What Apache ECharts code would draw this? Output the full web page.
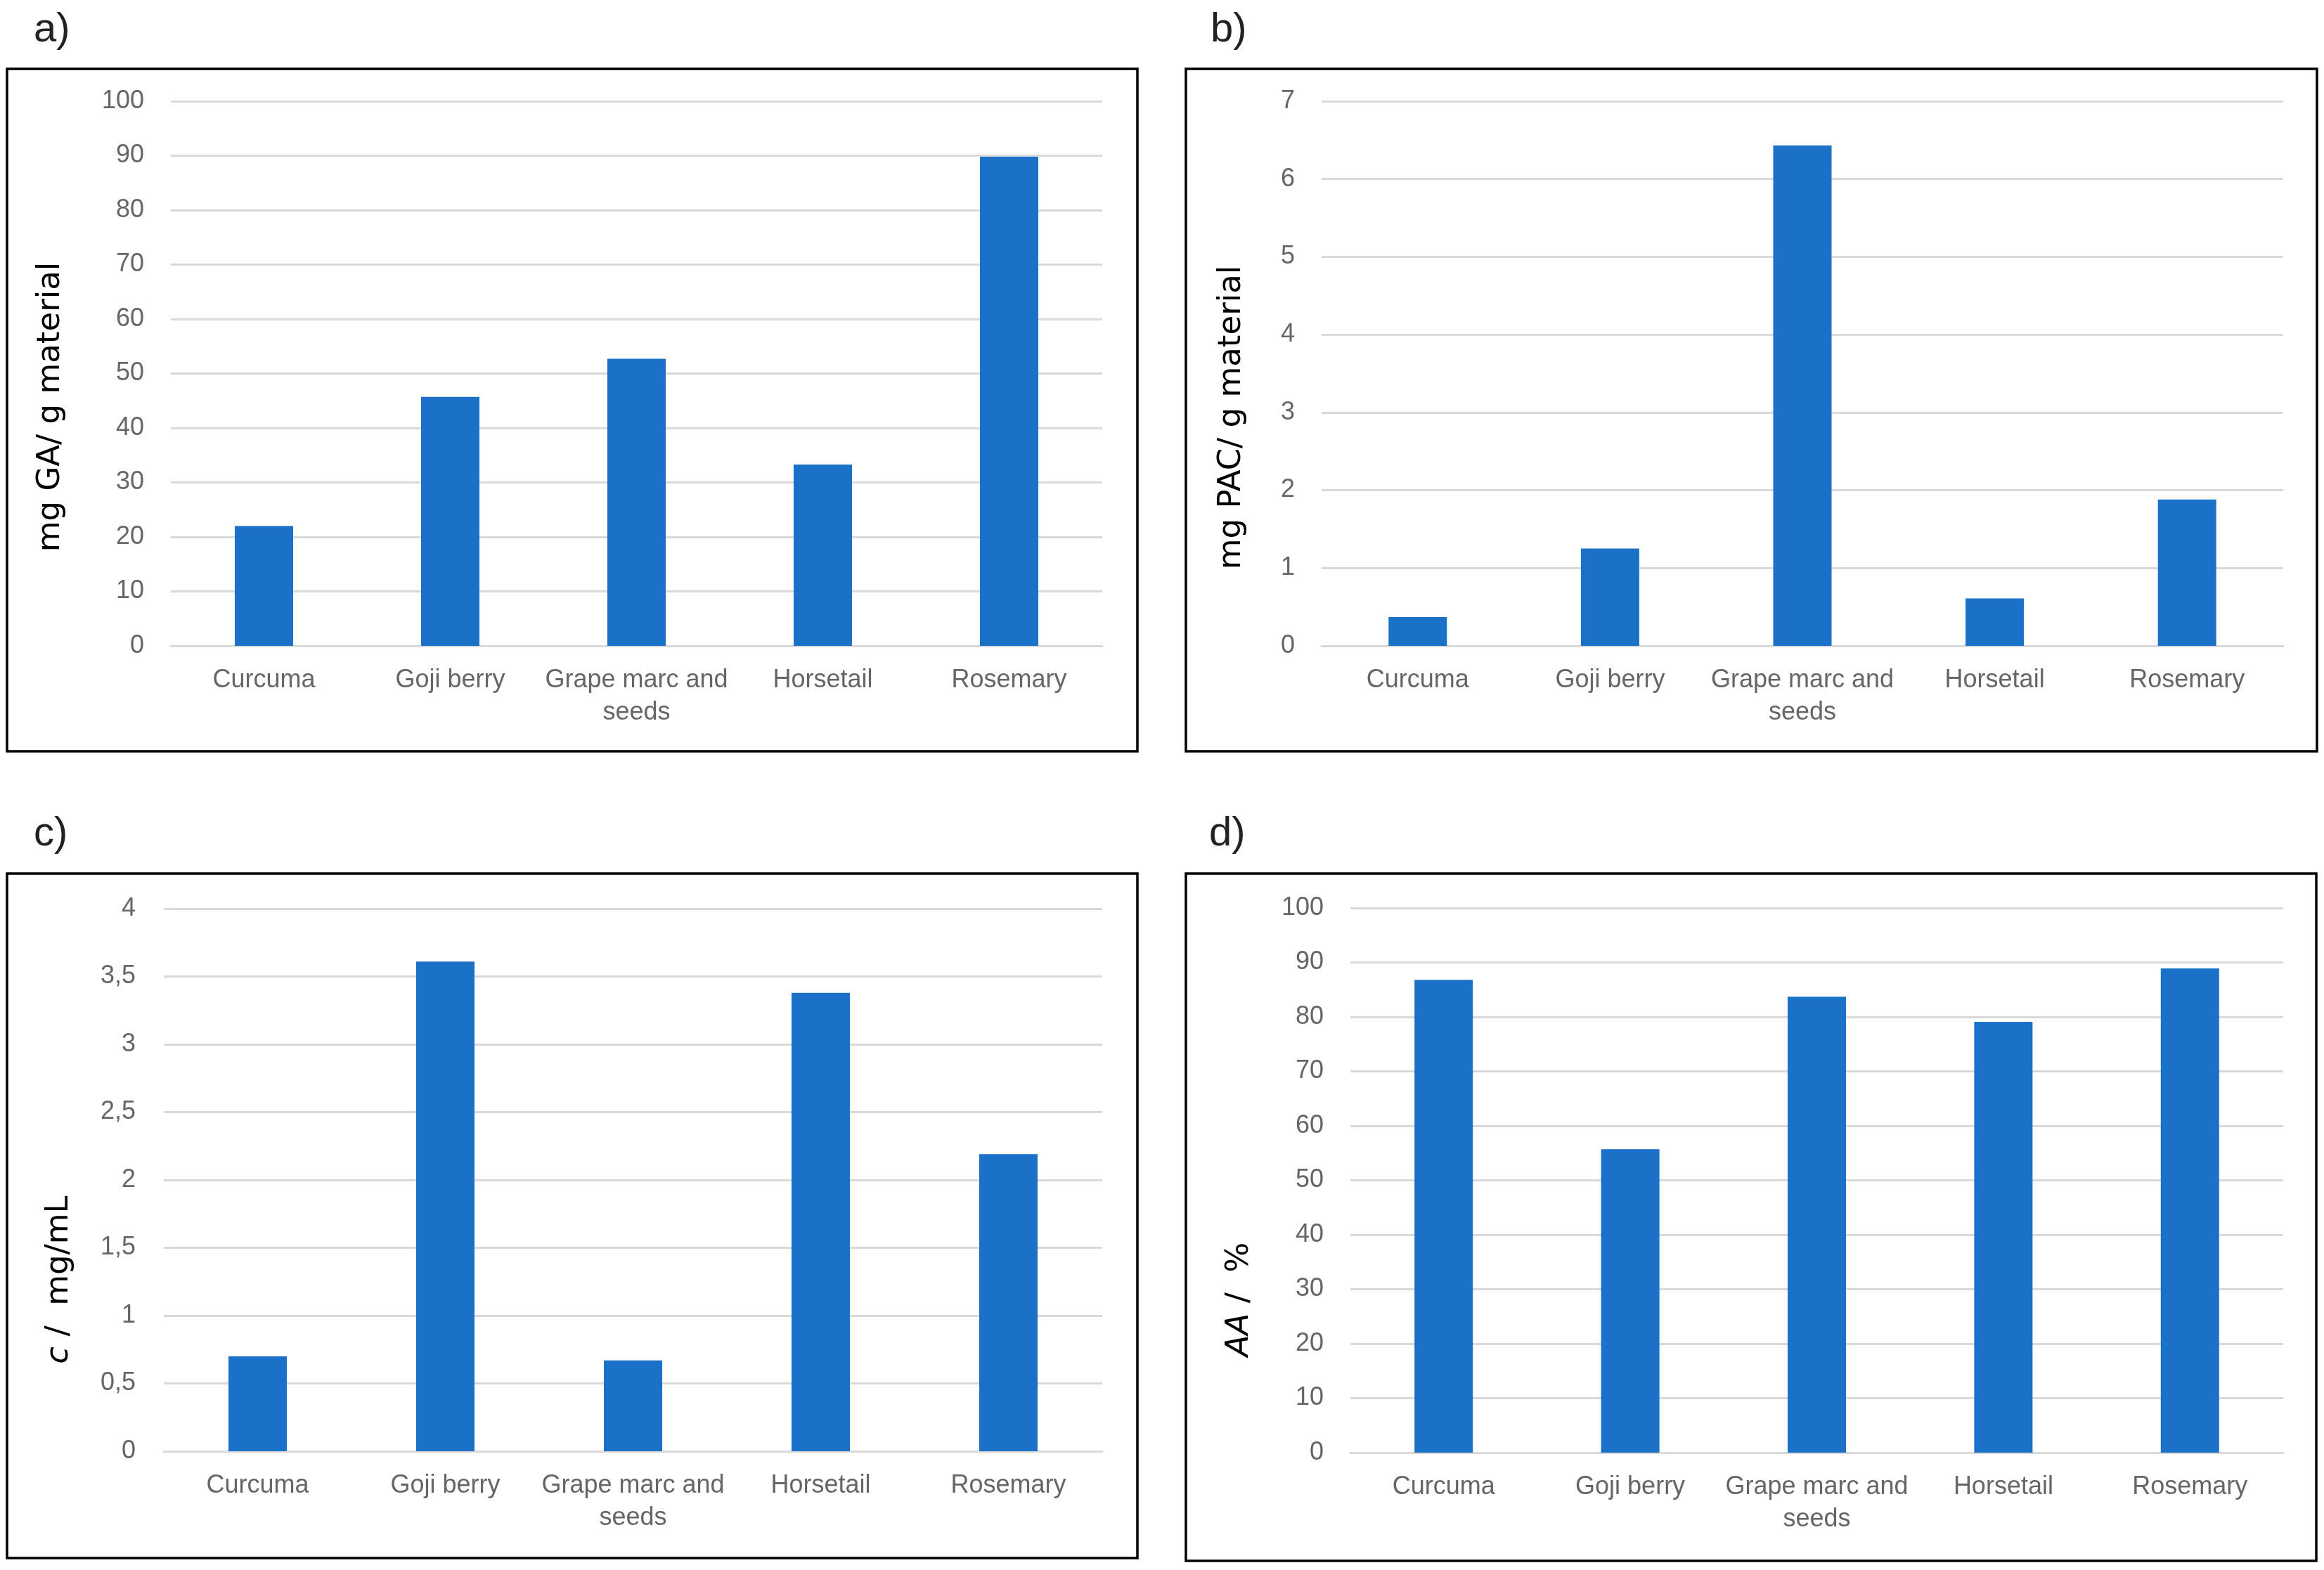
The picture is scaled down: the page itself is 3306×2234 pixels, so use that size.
<!DOCTYPE html>
<html>
<head>
<meta charset="utf-8">
<script src="https://cdn.jsdelivr.net/npm/echarts@6/dist/echarts.min.js"></script>
<style>
html,body{margin:0;padding:0;background:#fff;}
#chart{width:3306px;height:2234px;}
</style>
</head>
<body>
<div id="chart"></div>
<script>
// ---- data ----
const categories = ['Curcuma', 'Goji berry', 'Grape marc and seeds', 'Horsetail', 'Rosemary'];
const gaValues = [22.0, 45.7, 52.7, 33.3, 89.8];      // a) mg GA/ g material
const pacValues = [0.37, 1.25, 6.43, 0.61, 1.88];     // b) mg PAC/ g material
const concValues = [0.70, 3.61, 0.67, 3.38, 2.19];    // c) c / mg/mL
const aaValues = [86.8, 55.7, 83.7, 79.1, 88.9];      // d) AA / %
const panelLabels = ['a)', 'b)', 'c)', 'd)'];
const yTitles = ['mg GA/ g material', 'mg PAC/ g material', '{i|c} /  mg/mL', '{i|AA} /  %'];
const yMax = [100, 7, 4, 100];
const yInterval = [10, 1, 0.5, 10];

// ---- layout / style ----
const BLUE = '#1b71c8';
const GRID_COLOR = '#d9d9d9';
const LABEL_COLOR = '#666666';
const grids = [
  {left: 243, top: 144, width: 1325, height: 775},
  {left: 1880, top: 144, width: 1368, height: 775},
  {left: 233, top: 1293, width: 1335, height: 772},
  {left: 1921, top: 1292, width: 1327, height: 775}
];
const boxes = [
  {x: 10, y: 98, w: 1608, h: 971},
  {x: 1687, y: 98, w: 1609, h: 971},
  {x: 10, y: 1243, w: 1608, h: 974},
  {x: 1687, y: 1243, w: 1608, h: 978}
];
const labelPos = [[48, 43], [1722, 43], [48, 1187], [1720, 1187]];
const titlePos = [[72, 579], [1752, 594], [84, 1821], [1763, 1849]];
const labelMargins = [38, 38, 40, 38];

function catFormatter(v) {
  return v === 'Grape marc and seeds' ? 'Grape marc and\nseeds' : v;
}
function numFormatter(v) {
  return String(v).replace('.', ',');
}

const seriesData = [gaValues, pacValues, concValues, aaValues];

const option = {
  backgroundColor: '#ffffff',
  animation: false,
  grid: grids.map(g => Object.assign({containLabel: false}, g)),
  xAxis: grids.map((g, i) => ({
    type: 'category',
    gridIndex: i,
    data: categories,
    axisLine: {show: true, lineStyle: {color: GRID_COLOR, width: 3}},
    axisTick: {show: false},
    axisLabel: {
      formatter: catFormatter,
      color: LABEL_COLOR,
      fontFamily: 'Liberation Sans',
      fontSize: 36,
      lineHeight: 46,
      margin: 26,
      interval: 0
    }
  })),
  yAxis: grids.map((g, i) => ({
    type: 'value',
    gridIndex: i,
    min: 0,
    max: yMax[i],
    interval: yInterval[i],
    axisLine: {show: false},
    axisTick: {show: false},
    splitLine: {show: true, lineStyle: {color: GRID_COLOR, width: 3}},
    axisLabel: {
      formatter: numFormatter,
      color: LABEL_COLOR,
      fontFamily: 'Liberation Sans',
      fontSize: 36,
      margin: labelMargins[i]
    }
  })),
  series: seriesData.map((d, i) => ({
    type: 'bar',
    xAxisIndex: i,
    yAxisIndex: i,
    data: d,
    barWidth: 83,
    itemStyle: {color: BLUE},
    silent: true
  })),
  graphic: [
    ...boxes.map(b => ({
      type: 'rect',
      shape: {x: b.x, y: b.y, width: b.w, height: b.h},
      style: {fill: null, stroke: '#000000', lineWidth: 3.5},
      silent: true,
      z: 100
    })),
    ...panelLabels.map((t, i) => ({
      type: 'text',
      x: labelPos[i][0],
      y: labelPos[i][1],
      style: {
        text: t,
        fill: '#222222',
        font: '58px "Liberation Sans"',
        verticalAlign: 'middle'
      },
      silent: true
    })),
    ...yTitles.map((t, i) => ({
      type: 'text',
      x: titlePos[i][0],
      y: titlePos[i][1],
      rotation: Math.PI / 2,
      style: {
        text: t,
        fill: '#000000',
        fontFamily: 'DejaVu Sans',
        fontSize: 45,
        align: 'center',
        verticalAlign: 'middle',
        rich: {i: {fontStyle: 'italic', fontFamily: 'DejaVu Sans', fontSize: 45, fill: '#000000'}}
      },
      silent: true
    }))
  ]
};

const chart = echarts.init(document.getElementById('chart'), null, {renderer: 'canvas'});
chart.setOption(option);
</script>
</body>
</html>
